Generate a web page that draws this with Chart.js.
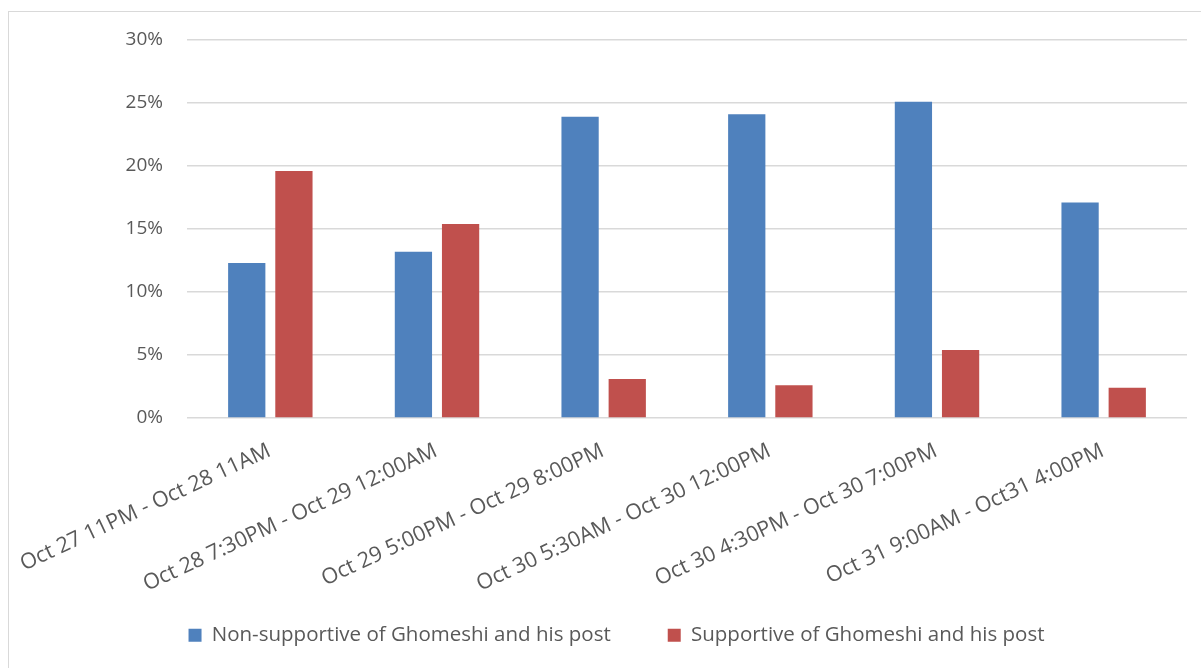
<!DOCTYPE html>
<html>
<head>
<meta charset="utf-8">
<script src="https://cdn.jsdelivr.net/npm/chart.js@4.4.0/dist/chart.umd.min.js"></script>
<style>
  html, body { margin: 0; padding: 0; background: #fff; overflow: hidden; }
  #frame {
    position: absolute; left: 8px; top: 11px;
    width: 1300px; height: 700px;
    border: 1px solid #d9d9d9;
  }
  #wrap { position: absolute; left: 0; top: 0; width: 1201px; height: 668px; }
</style>
</head>
<body>
<div id="frame"></div>
<div id="wrap"><canvas id="chart"></canvas></div>
<script>
// Time windows (categories)
const periods = [
  'Oct 27 11PM - Oct 28 11AM',
  'Oct 28 7:30PM - Oct 29 12:00AM',
  'Oct 29 5:00PM - Oct 29 8:00PM',
  'Oct 30 5:30AM - Oct 30 12:00PM',
  'Oct 30 4:30PM - Oct 30 7:00PM',
  'Oct 31 9:00AM - Oct31 4:00PM'
];

// Share of comments, in percent
const nonSupportive = [12.3, 13.2, 23.9, 24.1, 25.1, 17.1];
const supportive = [19.6, 15.4, 3.1, 2.6, 5.4, 2.4];

const seriesNames = ['Non-supportive of Ghomeshi and his post', 'Supportive of Ghomeshi and his post'];
const yTicks = [0, 5, 10, 15, 20, 25, 30];

const textColor = '#595959';
const fontFamily = '"Open Sans", "Liberation Sans", sans-serif';

const ctx = document.getElementById('chart').getContext('2d');
new Chart(ctx, {
  type: 'bar',
  data: {
    labels: periods,
    datasets: [
      {
        label: seriesNames[0],
        data: nonSupportive,
        backgroundColor: '#4F81BD',
        categoryPercentage: 0.566,
        barPercentage: 0.79
      },
      {
        label: seriesNames[1],
        data: supportive,
        backgroundColor: '#C0504D',
        categoryPercentage: 0.566,
        barPercentage: 0.79
      }
    ]
  },
  options: {
    responsive: true,
    maintainAspectRatio: false,
    animation: false,
    layout: { padding: { left: 46, right: 14, top: 40, bottom: 12.5 } },
    plugins: {
      tooltip: { enabled: false },
      legend: {
        position: 'bottom',
        labels: {
          boxWidth: 13,
          boxHeight: 13,
          padding: 57,
          color: textColor,
          font: { family: fontFamily, size: 20.5 }
        }
      }
    },
    scales: {
      x: {
        grid: { display: false, drawTicks: false },
        border: { display: false },
        ticks: {
          color: textColor,
          font: { family: fontFamily, size: 21.5 },
          minRotation: 25,
          maxRotation: 25,
          padding: 20,
          labelOffset: -1
        },
        afterFit: scale => {
          scale.height = 150;
          // keep the plot edges fixed, labels may hang outside
          scale.paddingLeft = 0;
          scale.paddingRight = 0;
        },
        // long rotated labels run past the axis box into the legend area
        afterUpdate: scale => { scale._computeLabelArea = () => null; }
      },
      y: {
        min: yTicks[0],
        max: yTicks[yTicks.length - 1],
        afterBuildTicks: scale => { scale.ticks = yTicks.map(v => ({ value: v })); },
        grid: { color: '#d9d9d9', lineWidth: 1.5, drawTicks: false },
        border: { display: false },
        ticks: {
          color: textColor,
          font: { family: fontFamily, size: 19 },
          padding: 24,
          callback: v => v + '%'
        },
        afterFit: scale => { scale.width = 141; }
      }
    }
  }
});
</script>
</body>
</html>
